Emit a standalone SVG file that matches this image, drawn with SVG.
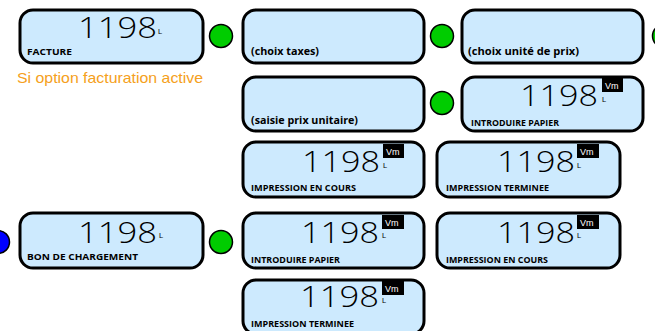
<svg xmlns="http://www.w3.org/2000/svg" width="655" height="331" viewBox="0 0 655 331">
<style>
.box{fill:#cdeafe;stroke:#000;stroke-width:3}
.num{font-family:"Open Sans","DejaVu Sans",sans-serif;font-weight:300;font-size:30px;fill:#000}
.u{font-family:"Liberation Sans",sans-serif;font-size:7.5px;fill:#000}
.lbl{font-family:"Open Sans","Liberation Sans",sans-serif;font-weight:bold;font-size:8.5px;fill:#000}
.lbl2{font-family:"Open Sans","Liberation Sans",sans-serif;font-weight:bold;font-size:10px;fill:#000}
.vmb{fill:#000}
.vm{font-family:"Liberation Sans",sans-serif;font-size:9px;fill:#fff}
.g{fill:#00cc00;stroke:#000;stroke-width:1.5}
.b{fill:#0000ff;stroke:#000;stroke-width:1.5}
.note{font-family:"Liberation Sans",Arial,sans-serif;font-size:14.5px;fill:#f5a020}
</style>
<rect width="655" height="331" fill="#fff"/>
<g id="connectors"></g>
<g id="n1"><rect class="box" x="20" y="10" width="183" height="53" rx="13"/><text class="num" x="78" y="38" textLength="79" lengthAdjust="spacingAndGlyphs">1198</text><text class="u" x="158" y="34">L</text><text class="lbl" x="27" y="55" textLength="45" lengthAdjust="spacingAndGlyphs">FACTURE</text></g>
<g id="c1"><circle class="g" cx="221" cy="36" r="11.5"/></g>
<g id="note"><text class="note" x="17" y="83" textLength="186" lengthAdjust="spacingAndGlyphs">Si option facturation active</text></g>
<g id="n2"><rect class="box" x="243" y="10" width="181" height="53" rx="13"/><text class="lbl2" x="251" y="55" textLength="68" lengthAdjust="spacingAndGlyphs">(choix taxes)</text></g>
<g id="c2"><circle class="g" cx="442" cy="36" r="11.5"/></g>
<g id="n3"><rect class="box" x="462" y="10" width="181" height="53" rx="13"/><text class="lbl2" x="468" y="55" textLength="111" lengthAdjust="spacingAndGlyphs">(choix unité de prix)</text></g>
<g id="c3"><circle class="g" cx="664" cy="36" r="11.5"/></g>
<g id="n4"><rect class="box" x="243" y="77" width="181" height="54" rx="13"/><text class="lbl2" x="251" y="124" textLength="107" lengthAdjust="spacingAndGlyphs">(saisie prix unitaire)</text></g>
<g id="c4"><circle class="g" cx="442" cy="103" r="11.5"/></g>
<g id="n5"><rect class="box" x="462" y="77" width="181" height="54" rx="13"/><text class="num" x="520" y="106" textLength="78" lengthAdjust="spacingAndGlyphs">1198</text><rect class="vmb" x="602" y="78" width="21" height="14"/><text class="vm" x="605" y="89">Vm</text><text class="u" x="602" y="102">L</text><text class="lbl" x="471" y="126" textLength="88" lengthAdjust="spacingAndGlyphs">INTRODUIRE PAPIER</text></g>
<g id="n6"><rect class="box" x="243" y="142" width="181" height="55" rx="13"/><text class="num" x="302" y="172" textLength="78" lengthAdjust="spacingAndGlyphs">1198</text><rect class="vmb" x="383" y="144" width="21" height="14"/><text class="vm" x="386" y="155">Vm</text><text class="u" x="383" y="168">L</text><text class="lbl" x="251" y="191" textLength="105" lengthAdjust="spacingAndGlyphs">IMPRESSION EN COURS</text></g>
<g id="n7"><rect class="box" x="437" y="142" width="183" height="55" rx="13"/><text class="num" x="497" y="172" textLength="78" lengthAdjust="spacingAndGlyphs">1198</text><rect class="vmb" x="577" y="144" width="22" height="14"/><text class="vm" x="580" y="155">Vm</text><text class="u" x="577" y="168">L</text><text class="lbl" x="446" y="191" textLength="103" lengthAdjust="spacingAndGlyphs">IMPRESSION TERMINEE</text></g>
<g id="c5"><circle class="b" cx="-2" cy="242" r="11.5"/></g>
<g id="n8"><rect class="box" x="20" y="213" width="183" height="55" rx="13"/><text class="num" x="78" y="243" textLength="79" lengthAdjust="spacingAndGlyphs">1198</text><text class="u" x="159" y="238">L</text><text class="lbl" x="27" y="260" textLength="111" lengthAdjust="spacingAndGlyphs">BON DE CHARGEMENT</text></g>
<g id="c6"><circle class="g" cx="221" cy="242" r="11.5"/></g>
<g id="n9"><rect class="box" x="243" y="213" width="181" height="55" rx="13"/><text class="num" x="301" y="243" textLength="78" lengthAdjust="spacingAndGlyphs">1198</text><rect class="vmb" x="382" y="215" width="22" height="14"/><text class="vm" x="385" y="226">Vm</text><text class="u" x="382" y="238">L</text><text class="lbl" x="251" y="263" textLength="89" lengthAdjust="spacingAndGlyphs">INTRODUIRE PAPIER</text></g>
<g id="n10"><rect class="box" x="437" y="213" width="183" height="55" rx="13"/><text class="num" x="497" y="243" textLength="78" lengthAdjust="spacingAndGlyphs">1198</text><rect class="vmb" x="577" y="215" width="22" height="14"/><text class="vm" x="580" y="226">Vm</text><text class="u" x="577" y="238">L</text><text class="lbl" x="446" y="263" textLength="102" lengthAdjust="spacingAndGlyphs">IMPRESSION EN COURS</text></g>
<g id="n11"><rect class="box" x="243" y="280" width="181" height="54" rx="13"/><text class="num" x="300" y="307" textLength="79" lengthAdjust="spacingAndGlyphs">1198</text><rect class="vmb" x="382" y="281" width="22" height="14"/><text class="vm" x="385" y="292">Vm</text><text class="u" x="382" y="303">L</text><text class="lbl" x="251" y="327" textLength="103" lengthAdjust="spacingAndGlyphs">IMPRESSION TERMINEE</text></g>
</svg>
